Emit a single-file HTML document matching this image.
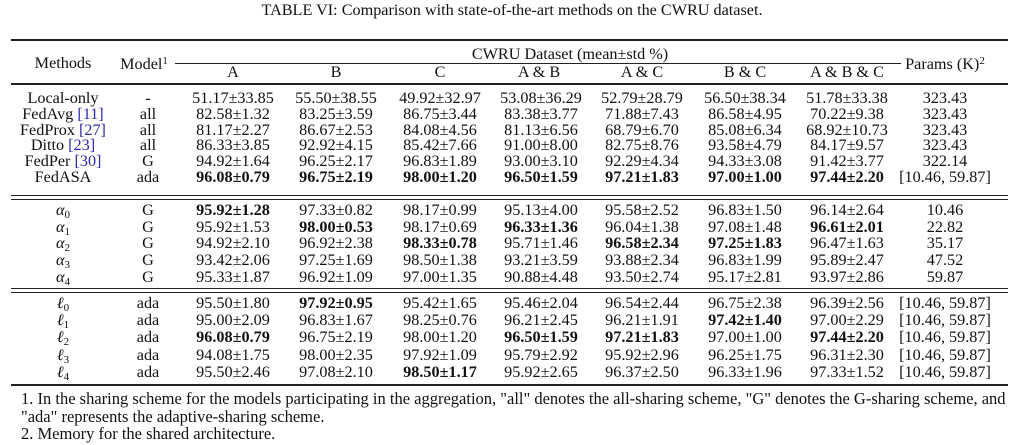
<!DOCTYPE html>
<html><head><meta charset="utf-8"><style>
body{margin:0;width:1024px;height:445px;background:#fff;position:relative;overflow:hidden;font-family:"Liberation Serif",serif;color:#111;}
.c{position:absolute;width:130px;text-align:center;font-size:16.2px;height:18px;line-height:18px;white-space:nowrap;}
.r{position:absolute;background:#222;}
b{font-weight:bold;}
.ref{color:#2a2aa8;}
sub{font-size:11px;vertical-align:-3px;}
sup{font-size:11px;vertical-align:5px;}
.m{font-style:italic;}
.t{position:absolute;left:0;width:1024px;text-align:center;top:1px;font-size:16.2px;}
.f{position:absolute;left:21px;font-size:16.5px;white-space:nowrap;}
</style></head><body>
<div class="t">TABLE VI: Comparison with state-of-the-art methods on the CWRU dataset.</div>
<div class="r" style="left:11px;top:39px;width:997px;height:2px"></div>
<div class="r" style="left:175px;top:63px;width:726px;height:1px"></div>
<div class="r" style="left:11px;top:83px;width:997px;height:2px"></div>
<div class="r" style="left:11px;top:195px;width:997px;height:1px"></div>
<div class="r" style="left:11px;top:199px;width:997px;height:1px"></div>
<div class="r" style="left:11px;top:288px;width:997px;height:1px"></div>
<div class="r" style="left:11px;top:292px;width:997px;height:1px"></div>
<div class="r" style="left:11px;top:384px;width:997px;height:2px"></div>

<div class="c" style="left:-2px;top:54px">Methods</div>
<div class="c" style="left:79px;top:52px">Model<sup>1</sup></div>
<div class="c" style="left:420px;top:45px;width:300px">CWRU Dataset (mean±std %)</div>
<div class="c" style="left:880px;top:52px">Params (K)<sup>2</sup></div>
<div class="c" style="left:168px;top:63px">A</div>
<div class="c" style="left:271px;top:63px">B</div>
<div class="c" style="left:375px;top:63px">C</div>
<div class="c" style="left:474px;top:63px">A &amp; B</div>
<div class="c" style="left:577px;top:63px">A &amp; C</div>
<div class="c" style="left:680px;top:63px">B &amp; C</div>
<div class="c" style="left:782px;top:63px">A &amp; B &amp; C</div>

<div id="rows"></div>
<script>
var X=[-2,83,168,271,375,476,577,680,782,880];
var Y=[98,114,130,145,161,177,210,227,243,260,277,303,320,337,355,372];
var R=[
["Local-only","-","51.17±33.85","55.50±38.55","49.92±32.97","53.08±36.29","52.79±28.79","56.50±38.34","51.78±33.38","323.43"],
["FedAvg <span class=ref>[11]</span>","all","82.58±1.32","83.25±3.59","86.75±3.44","83.38±3.77","71.88±7.43","86.58±4.95","70.22±9.38","323.43"],
["FedProx <span class=ref>[27]</span>","all","81.17±2.27","86.67±2.53","84.08±4.56","81.13±6.56","68.79±6.70","85.08±6.34","68.92±10.73","323.43"],
["Ditto <span class=ref>[23]</span>","all","86.33±3.85","92.92±4.15","85.42±7.66","91.00±8.00","82.75±8.76","93.58±4.79","84.17±9.57","323.43"],
["FedPer <span class=ref>[30]</span>","G","94.92±1.64","96.25±2.17","96.83±1.89","93.00±3.10","92.29±4.34","94.33±3.08","91.42±3.77","322.14"],
["FedASA","ada","<b>96.08±0.79</b>","<b>96.75±2.19</b>","<b>98.00±1.20</b>","<b>96.50±1.59</b>","<b>97.21±1.83</b>","<b>97.00±1.00</b>","<b>97.44±2.20</b>","[10.46, 59.87]"],
["<span class=m>α</span><sub>0</sub>","G","<b>95.92±1.28</b>","97.33±0.82","98.17±0.99","95.13±4.00","95.58±2.52","96.83±1.50","96.14±2.64","10.46"],
["<span class=m>α</span><sub>1</sub>","G","95.92±1.53","<b>98.00±0.53</b>","98.17±0.69","<b>96.33±1.36</b>","96.04±1.38","97.08±1.48","<b>96.61±2.01</b>","22.82"],
["<span class=m>α</span><sub>2</sub>","G","94.92±2.10","96.92±2.38","<b>98.33±0.78</b>","95.71±1.46","<b>96.58±2.34</b>","<b>97.25±1.83</b>","96.47±1.63","35.17"],
["<span class=m>α</span><sub>3</sub>","G","93.42±2.06","97.25±1.69","98.50±1.38","93.21±3.59","93.88±2.34","96.83±1.99","95.89±2.47","47.52"],
["<span class=m>α</span><sub>4</sub>","G","95.33±1.87","96.92±1.09","97.00±1.35","90.88±4.48","93.50±2.74","95.17±2.81","93.97±2.86","59.87"],
["<span class=m>ℓ</span><sub>0</sub>","ada","95.50±1.80","<b>97.92±0.95</b>","95.42±1.65","95.46±2.04","96.54±2.44","96.75±2.38","96.39±2.56","[10.46, 59.87]"],
["<span class=m>ℓ</span><sub>1</sub>","ada","95.00±2.09","96.83±1.67","98.25±0.76","96.21±2.45","96.21±1.91","<b>97.42±1.40</b>","97.00±2.29","[10.46, 59.87]"],
["<span class=m>ℓ</span><sub>2</sub>","ada","<b>96.08±0.79</b>","96.75±2.19","98.00±1.20","<b>96.50±1.59</b>","<b>97.21±1.83</b>","97.00±1.00","<b>97.44±2.20</b>","[10.46, 59.87]"],
["<span class=m>ℓ</span><sub>3</sub>","ada","94.08±1.75","98.00±2.35","97.92±1.09","95.79±2.92","95.92±2.96","96.25±1.75","96.31±2.30","[10.46, 59.87]"],
["<span class=m>ℓ</span><sub>4</sub>","ada","95.50±2.46","97.08±2.10","<b>98.50±1.17</b>","95.92±2.65","96.37±2.50","96.33±1.96","97.33±1.52","[10.46, 59.87]"]];
var h="";
R.forEach(function(r,i){r.forEach(function(t,j){h+='<div class="c" style="left:'+X[j]+'px;top:'+(Y[i]-9)+'px">'+t+'</div>';});});
document.getElementById("rows").innerHTML=h;
</script>
<div class="f" style="top:389px">1. In the sharing scheme for the models participating in the aggregation, "all" denotes the all-sharing scheme, "G" denotes the G-sharing scheme, and</div>
<div class="f" style="top:407px">"ada" represents the adaptive-sharing scheme.</div>
<div class="f" style="top:424px">2. Memory for the shared architecture.</div>
</body></html>
